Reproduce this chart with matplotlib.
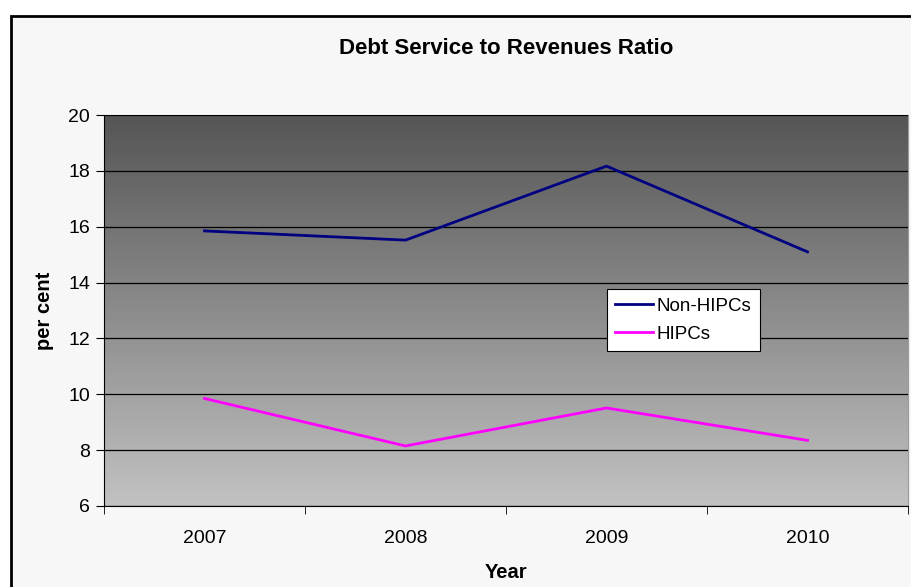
import matplotlib.pyplot as plt
import matplotlib.patches as patches
import numpy as np

plt.rcParams['font.family'] = ['Liberation Sans', 'DejaVu Sans']

years = ['2007', '2008', '2009', '2010']
non_hipcs = [15.85, 15.52, 18.17, 15.1]
hipcs = [9.85, 8.15, 9.51, 8.35]

fig = plt.figure(figsize=(9.11, 5.87), dpi=100)
fig.patch.set_facecolor('white')

# outer chart-area frame (runs off right/bottom like the original)
frame = patches.Rectangle((10.5 / 911, -0.05), 1.1, 1 - 15.5 / 587 + 0.05,
                          transform=fig.transFigure, facecolor='#f7f7f7',
                          edgecolor='black', linewidth=2, zorder=-5)
fig.patches.append(frame)

ax = fig.add_axes([104 / 911, 1 - 506 / 587, 804 / 911, 391 / 587])
ax.set_zorder(1)
ax.set_facecolor('none')

x = np.arange(len(years))
ax.set_xlim(-0.5, 3.5)
ax.set_ylim(6, 20)

# vertical grey gradient in the plot area
grad = np.linspace(0, 1, 256).reshape(-1, 1)
ax.imshow(grad, extent=(-0.5, 3.5, 6, 20), aspect='auto', origin='lower',
          cmap=plt.matplotlib.colors.LinearSegmentedColormap.from_list(
              'g', ['#c2c2c2', '#555555']), zorder=0)

ax.set_yticks(range(6, 21, 2))
ax.yaxis.grid(True, color='black', linewidth=0.9)
ax.set_axisbelow(False)
for gl in ax.get_ygridlines():
    gl.set_zorder(1)

ax.plot(x, non_hipcs, color='#000080', linewidth=2, label='Non-HIPCs', zorder=3)
ax.plot(x, hipcs, color='#ff00ff', linewidth=2, label='HIPCs', zorder=3)

ax.set_xticks(x)
ax.set_xticklabels(years)
ax.set_xticks(np.arange(-0.5, 4, 1), minor=True)
ax.tick_params(axis='x', which='major', length=0, pad=17, labelsize=14)
ax.tick_params(axis='x', which='minor', length=6, direction='out', color='black')
ax.tick_params(axis='y', length=6, direction='out', labelsize=14, pad=4)

ax.spines['top'].set_color('#999999')
ax.spines['right'].set_color('#999999')
ax.spines['left'].set_color('black')
ax.spines['bottom'].set_color('black')

ax.set_title('Debt Service to Revenues Ratio', fontsize=16, fontweight='bold', pad=44)
ax.set_xlabel('Year', fontsize=14.5, fontweight='bold', labelpad=12)
ax.set_ylabel('per cent', fontsize=14.5, fontweight='bold', labelpad=10)

leg = ax.legend(loc='upper left', bbox_to_anchor=(503 / 804, 1 - 174 / 391),
                fontsize=13.5, frameon=True, fancybox=False, framealpha=1,
                edgecolor='black', handlelength=2.0, handletextpad=0.2,
                borderpad=0.45, labelspacing=0.6, borderaxespad=0)
leg.get_frame().set_linewidth(0.8)

fig.savefig('out.png', dpi=100)
